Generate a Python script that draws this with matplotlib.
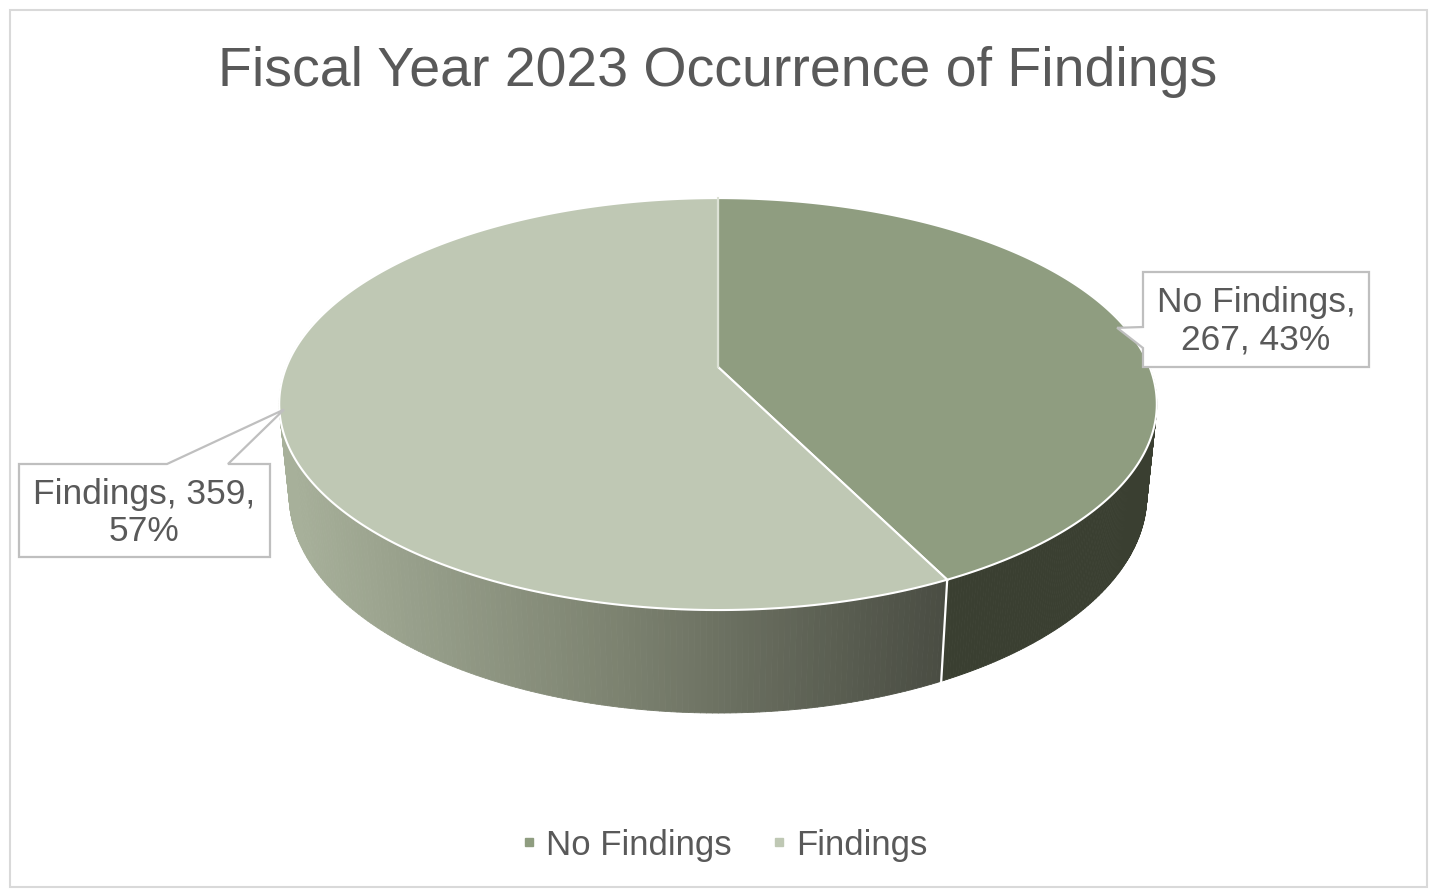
import numpy as np
import matplotlib
matplotlib.use('Agg')  # noqa
import matplotlib.pyplot as plt
from matplotlib.patches import Polygon, Rectangle
from matplotlib.collections import PolyCollection
from matplotlib.lines import Line2D
from matplotlib.colors import LinearSegmentedColormap

# data
categories = ['No Findings', 'Findings']
counts = [267, 359]
top_colors = ['#8F9D80', '#BFC8B4']
title = 'Fiscal Year 2023 Occurrence of Findings'

plt.rcParams['font.family'] = ['Liberation Sans', 'DejaVu Sans']
TXT = '#595959'

W, H = 1430, 890
fig = plt.figure(figsize=(W / 100, H / 100), dpi=100)
ax = fig.add_axes([0, 0, 1, 1])
ax.set_xlim(0, W)
ax.set_ylim(H, 0)
ax.axis('off')

# simple perspective camera for the 3d pie
CX, CY = 718, 367
F = 2128.0
D0 = 4.93
PHI = np.radians(27.5)
DEPTH = 0.241


def project(x, y, z=0.0):
    d = D0 + y * np.cos(PHI) - z * np.sin(PHI)
    up = F * (y * np.sin(PHI) + z * np.cos(PHI)) / d
    return CX + F * x / d, CY - up


def rim(theta, z=0.0, r=1.0):
    return project(r * np.sin(theta), r * np.cos(theta), z)


total = sum(counts)
bounds = np.concatenate([[0], np.cumsum(counts) / total]) * 2 * np.pi

# side wall (front part only), drawn as thin quads
front_lo, front_hi = np.radians(75), np.radians(285)
side_cmap = LinearSegmentedColormap.from_list('side', ['#A7B09A', '#7C8270', '#4A4D43'])
quads, cols = [], []
for i in range(len(counts)):
    a0 = max(bounds[i], front_lo)
    a1 = min(bounds[i + 1], front_hi)
    if a1 <= a0:
        continue
    th = np.linspace(a0, a1, 200)
    tx, ty = rim(th, 0)
    bx, by = rim(th, -DEPTH)
    for j in range(len(th) - 1):
        quads.append([(tx[j], ty[j]), (tx[j + 1], ty[j + 1]),
                      (bx[j + 1], by[j + 1]), (bx[j], by[j])])
        if i == 0:
            cols.append('#3A3F31')
        else:
            xm = (tx[j] + tx[j + 1]) / 2
            cols.append(side_cmap(np.clip((xm - 290) / (945 - 290), 0, 1)))
pc = PolyCollection(quads, facecolors=cols, edgecolors=cols, linewidths=0.6)
ax.add_collection(pc)

# white seam on the wall
sx, sy = rim(bounds[1], 0)
ex, ey = rim(bounds[1], -DEPTH)
ax.plot([sx, ex], [sy, ey], color='white', lw=1.6, zorder=3)

# top faces
cx0, cy0 = project(0, 0)
for i in range(len(counts)):
    th = np.linspace(bounds[i], bounds[i + 1], 300)
    px, py = rim(th, 0)
    pts = np.column_stack([np.r_[cx0, px], np.r_[cy0, py]])
    ax.add_patch(Polygon(pts, closed=True, facecolor=top_colors[i],
                         edgecolor='white', lw=1.5, zorder=4))
# top seam at 12 o'clock is softer
tx0, ty0 = rim(0.0, 0)
ax.plot([cx0, tx0], [cy0, ty0], color='#DDE2D6', lw=1.5, zorder=5)

# callouts
pct = [round(100 * c / total) for c in counts]
tip1 = rim(np.radians(78), 0, 0.98)
box1 = [(1143, 272), (1369, 272), (1369, 367), (1143, 367), (1143, 348), tip1, (1143, 327)]
ax.add_patch(Polygon(box1, closed=True, facecolor='white', edgecolor='#BFBFBF', lw=1.6, zorder=6))
ax.text(1256, 321, '%s,\n%d, %d%%' % (categories[0], counts[0], pct[0]),
        ha='center', va='center', fontsize=25.5, color=TXT, linespacing=1.18, zorder=7)

tip2 = rim(np.radians(258), 0, 0.99)
box2 = [(19, 464), (167, 464), tip2, (228, 464), (270, 464), (270, 557), (19, 557)]
ax.add_patch(Polygon(box2, closed=True, facecolor='white', edgecolor='#BFBFBF', lw=1.6, zorder=6))
ax.text(144, 513, '%s, %d,\n%d%%' % (categories[1], counts[1], pct[1]),
        ha='center', va='center', fontsize=25.5, color=TXT, linespacing=1.18, zorder=7)

# title
ax.text(718, 72, title, ha='center', va='center', fontsize=40, color=TXT)

# legend
handles = [Line2D([], [], ls='none', marker='s', markersize=6, color=c) for c in top_colors]
leg = ax.legend(handles, categories, loc='center', ncol=2, frameon=False,
                bbox_to_anchor=(724 / W, 1 - 845 / H), bbox_transform=fig.transFigure,
                fontsize=25, handlelength=0.5, handletextpad=0.25, columnspacing=1.1)
for t in leg.get_texts():
    t.set_color(TXT)

# chart border
ax.add_patch(Rectangle((10, 10), 1417, 877, fill=False, edgecolor='#D9D9D9', lw=1.5))

plt.savefig('out.png', dpi=100)
